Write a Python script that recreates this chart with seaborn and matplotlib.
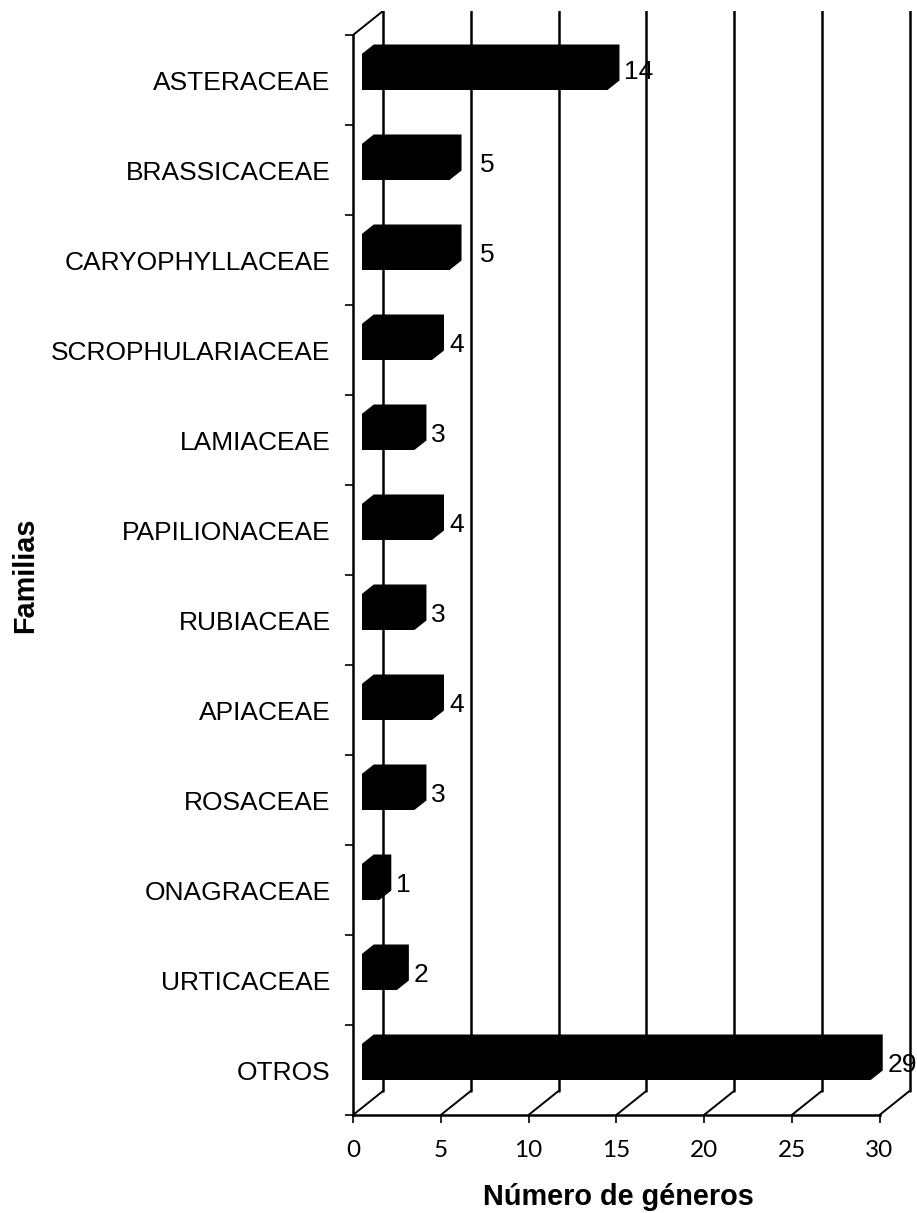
import matplotlib
matplotlib.use('Agg')
import matplotlib.pyplot as plt
from matplotlib.patches import Polygon
import pandas as pd
import seaborn as sns

# Families and number of genera, top to bottom
familias = ['ASTERACEAE', 'BRASSICACEAE', 'CARYOPHYLLACEAE', 'SCROPHULARIACEAE',
            'LAMIACEAE', 'PAPILIONACEAE', 'RUBIACEAE', 'APIACEAE', 'ROSACEAE',
            'ONAGRACEAE', 'URTICACEAE', 'OTROS']
generos = [14, 5, 5, 4, 3, 4, 3, 4, 3, 1, 2, 29]
x_ticks = [0, 5, 10, 15, 20, 25, 30]

sns.set_style('white')
plt.rcParams['font.family'] = ['Liberation Sans', 'DejaVu Sans']

W, H = 917, 1213
PX_X = 17.55  # pixels per genus
PX_Y = 90.0   # pixels per category

fig = plt.figure(figsize=(W / 100, H / 100), dpi=100, facecolor='white')
ax = fig.add_axes([353 / W, 1 - 1115 / H, 562 / W, 1104 / H])

df = pd.DataFrame({'familia': familias, 'generos': generos})
sns.barplot(data=df, x='generos', y='familia', color='black', width=0.4,
            saturation=1, left=0.5, linewidth=0, zorder=3, ax=ax)

# Limits have to match the pixel grid of the picture
wall_dx = 30 / PX_X
wall_dy = 24 / PX_Y
ax.set_xlim(0, 562 / PX_X)
ax.set_ylim(11.5, -0.5 - wall_dy)

# Back wall lines and the slanted floor lines
for t in x_ticks:
    ax.plot([t + wall_dx, t + wall_dx], [11.5 - wall_dy, -0.5 - wall_dy],
            color='black', lw=1.8, zorder=1)
    ax.plot([t, t + wall_dx], [11.5, 11.5 - wall_dy], color='black', lw=1.4, zorder=1)
ax.plot([0, wall_dx], [-0.5, -0.5 - wall_dy], color='black', lw=1.4, zorder=1)

# Fake 3D bars: extrude every bar up and to the right
depth_x = 12 / PX_X
depth_y = 9.5 / PX_Y
for i, (bar, n) in enumerate(zip(ax.patches, generos)):
    bar.set_y(bar.get_y() - 8 / PX_Y)
    x0, x1 = bar.get_x(), bar.get_x() + bar.get_width()
    y0, y1 = bar.get_y(), bar.get_y() + bar.get_height()
    ax.add_patch(Polygon([(x0, y0), (x0 + depth_x, y0 - depth_y), (x1 + depth_x, y0 - depth_y),
                          (x1 + depth_x, y1 - depth_y), (x1, y1)],
                         closed=True, facecolor='black', edgecolor='none', zorder=3))
    # The two bars with 5 have their label further out, the first one sits higher
    pad = 18 if n == 5 else 5
    up = 8 if i == 0 else 5
    ax.annotate(str(n), xy=(x1 + depth_x, i), xytext=(pad * 0.72, up * 0.72),
                textcoords='offset points', ha='left', va='center', fontsize=19,
                color='black', zorder=4, annotation_clip=False)

# Spines
sns.despine(ax=ax, top=True, right=True)
ax.spines['left'].set_bounds(-0.5, 11.5)
ax.spines['bottom'].set_bounds(0, 30)
for side in ['left', 'bottom']:
    ax.spines[side].set_color('black')
    ax.spines[side].set_linewidth(1.8)

# Category labels sit between the tick marks
ax.set_yticks(range(len(familias)))
ax.set_yticklabels(familias, fontsize=19, color='black')
ax.set_yticks([i - 0.5 for i in range(len(familias) + 1)], minor=True)
ax.tick_params(axis='y', which='major', length=0, pad=16)
ax.tick_params(axis='y', which='minor', left=True, length=5.5, width=1.2, color='black')

ax.set_xticks(x_ticks)
ax.set_xticklabels(x_ticks, fontsize=17.5, color='black')
ax.tick_params(axis='x', bottom=True, length=5.5, width=1.2, color='black', pad=12.5,
               labelfontfamily='Lato')

ax.set_xlabel('')
ax.set_ylabel('')
fig.text(618 / W, 1 - 1197 / H, 'Número de géneros', fontsize=20.8, fontweight='bold',
         ha='center', va='center', color='black')
fig.text(25 / W, 1 - 575 / H, 'Familias', fontsize=20.8, fontweight='bold', rotation=90,
         ha='center', va='center', color='black')

fig.savefig('out.png', dpi=100, facecolor='white')
